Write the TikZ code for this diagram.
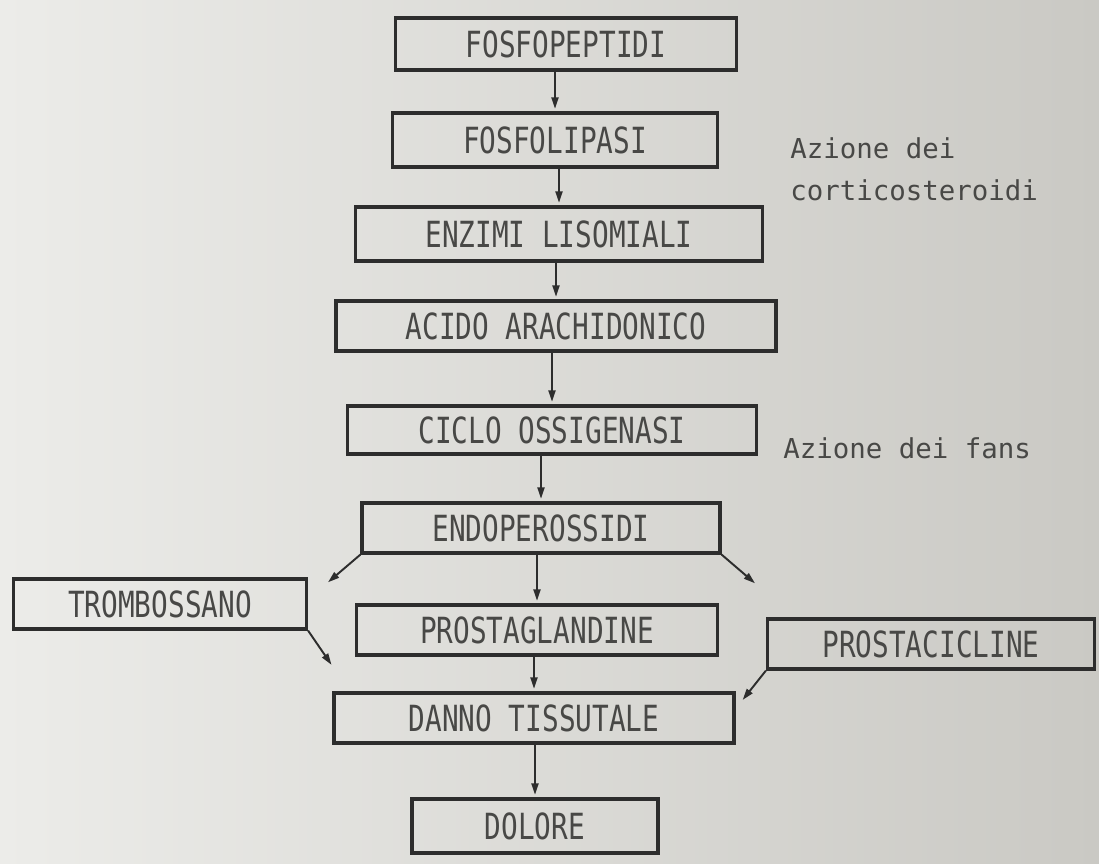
\documentclass[tikz,border=0pt]{standalone}
\usepackage{fontspec}
\usepackage{tikz}
\usetikzlibrary{arrows.meta}
\newfontfamily\boxfont[FakeStretch=0.77]{DejaVu Sans Mono}
\newfontfamily\notefont{DejaVu Sans Mono}
\definecolor{paperL}{RGB}{236,236,233}
\definecolor{paperR}{RGB}{202,201,196}
\definecolor{ink}{RGB}{45,45,45}
\definecolor{type}{RGB}{72,72,70}

\begin{document}
\begin{tikzpicture}[x=0.2mm, y=-0.2mm,
  box/.style={draw=ink, line width=1.8pt, text=type, inner sep=0pt, font=\boxfont\fontsize{20.5}{24}\selectfont},
  note/.style={text=type, align=left, anchor=west, inner sep=0pt, font=\notefont\fontsize{15.6}{24}\selectfont},
  arr/.style={draw=ink, line width=1.1pt, -{Triangle[length=6.5pt,width=4pt]}, shorten >=1.5pt}]
  \shade[left color=paperL, right color=paperR] (0,0) rectangle (1099,864);
  \useasboundingbox (0,0) rectangle (1099,864);

  \node[box, minimum width=68.2mm, minimum height=10.4mm] (fosfo) at (566,44) {FOSFOPEPTIDI};
  \node[box, minimum width=65mm, minimum height=10.8mm] (lipasi) at (555,140) {FOSFOLIPASI};
  \node[box, minimum width=81.4mm, minimum height=10.8mm] (enzimi) at (559,234) {ENZIMI LISOMIALI};
  \node[box, minimum width=88mm, minimum height=10mm] (acido) at (556,326) {ACIDO ARACHIDONICO};
  \node[box, minimum width=81.8mm, minimum height=9.6mm] (ciclo) at (552,430) {CICLO OSSIGENASI};
  \node[box, minimum width=71.6mm, minimum height=10mm] (endo) at (541,528) {ENDOPEROSSIDI};
  \node[box, minimum width=58.6mm, minimum height=10mm] (trombo) at (160,604) {TROMBOSSANO};
  \node[box, minimum width=72.2mm, minimum height=10mm] (glandine) at (537,630) {PROSTAGLANDINE};
  \node[box, minimum width=65.4mm, minimum height=10mm] (ciclina) at (931,644) {PROSTACICLINE};
  \node[box, minimum width=80mm, minimum height=10mm] (danno) at (534,718) {DANNO TISSUTALE};
  \node[box, minimum width=49.2mm, minimum height=10.8mm] (dolore) at (535,826) {DOLORE};

  \node[note] (cortico) at (790,169) {Azione dei\\corticosteroidi};
  \node[note] (fans) at (783,448) {Azione dei fans};

  \coordinate (toTrombo) at (326,584);
  \coordinate (toCiclina) at (757,585);
  \coordinate (fromTrombo) at (333,667);
  \coordinate (fromCiclina) at (741,702);

  \draw[arr] (fosfo.south -| lipasi.north) -- (lipasi.north);
  \draw[arr] (lipasi.south -| enzimi.north) -- (enzimi.north);
  \draw[arr] (enzimi.south -| acido.north) -- (acido.north);
  \draw[arr] (acido.south -| ciclo.north) -- (ciclo.north);
  \draw[arr] (ciclo.south -| endo.north) -- (endo.north);
  \draw[arr] (endo.south -| glandine.north) -- (glandine.north);
  \draw[arr] (glandine.south -| danno.north) -- (danno.north);
  \draw[arr] (danno.south -| dolore.north) -- (dolore.north);
  \draw[arr] (endo.south west) -- (toTrombo);
  \draw[arr] (endo.south east) -- (toCiclina);
  \draw[arr] (trombo.south east) -- (fromTrombo);
  \draw[arr] (ciclina.south west) -- (fromCiclina);
\end{tikzpicture}
\end{document}
